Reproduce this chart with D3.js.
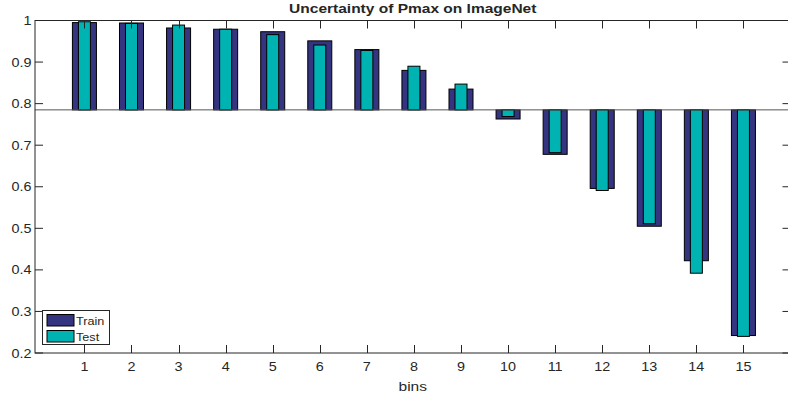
<!DOCTYPE html>
<html>
<head>
<meta charset="utf-8">
<script src="https://cdn.jsdelivr.net/npm/d3@7"></script>
<style>
  body { margin: 0; background: #fff; }
  svg { display: block; }
  text { font-family: "Liberation Sans", Arial, sans-serif; fill: #262626; }
</style>
</head>
<body>
<div id="chart"></div>
<script>
// bins and the two series
var bins = [1, 2, 3, 4, 5, 6, 7, 8, 9, 10, 11, 12, 13, 14, 15];
var train = [0.995, 0.994, 0.982, 0.979, 0.973, 0.951, 0.930, 0.880, 0.835, 0.763, 0.678, 0.596, 0.505, 0.422, 0.242];
var test = [0.997, 0.993, 0.989, 0.979, 0.966, 0.941, 0.928, 0.890, 0.847, 0.769, 0.682, 0.591, 0.511, 0.392, 0.240];
var yTicks = [0.2, 0.3, 0.4, 0.5, 0.6, 0.7, 0.8, 0.9, 1];
var baseValue = 0.785;
var seriesNames = ["Train", "Test"];
var colors = ["#343481", "#00b3b3"];

var width = 788, height = 398;
var box = {left: 35, right: 790.5, top: 20.5, bottom: 353};
var axisColor = "#262626";
var tickLen = 8;
var stretch = 1.15; // the picture is a bit wider than the font

var svg = d3.select("#chart").append("svg")
    .attr("width", width)
    .attr("height", height);

var x = d3.scaleLinear().domain([-0.05, 16]).range([box.left, box.right]);
var y = d3.scaleLinear().domain([0.2, 1]).range([box.bottom, box.top]);

// write text stretched like in the picture
function label(g, str, px, py, anchor, size, bold) {
    return g.append("text")
        .attr("transform", "translate(" + px + "," + py + ") scale(" + stretch + ",1)")
        .attr("text-anchor", anchor)
        .style("font-size", size + "px")
        .style("font-weight", bold ? "bold" : "normal")
        .text(str);
}

// bars: train (wide) then test (narrow) on top, both from the base value
var wide = 0.51, narrow = 0.255;
function drawBars(values, w, color) {
    svg.append("g").selectAll("rect")
        .data(values)
        .enter().append("rect")
        .attr("x", function (d, i) { return x(bins[i] - w / 2); })
        .attr("width", x(w) - x(0))
        .attr("y", function (d) { return y(Math.max(d, baseValue)); })
        .attr("height", function (d) { return Math.abs(y(d) - y(baseValue)); })
        .style("fill", color)
        .style("stroke", "#000")
        .style("stroke-width", 1);
}
drawBars(train, wide, colors[0]);
drawBars(test, narrow, colors[1]);

// base line
svg.append("line")
    .attr("x1", box.left).attr("x2", box.right)
    .attr("y1", y(baseValue)).attr("y2", y(baseValue))
    .style("stroke", "#555").style("stroke-width", 1);

// axes box with inward ticks on all sides
var axes = svg.append("g").style("stroke", axisColor).style("stroke-width", 1).style("fill", "none");
axes.append("rect")
    .attr("x", box.left).attr("y", box.top)
    .attr("width", box.right - box.left).attr("height", box.bottom - box.top);

bins.forEach(function (b) {
    var px = Math.round(x(b)) + 0.5;
    axes.append("line").attr("x1", px).attr("x2", px).attr("y1", box.bottom).attr("y2", box.bottom - tickLen);
    axes.append("line").attr("x1", px).attr("x2", px).attr("y1", box.top).attr("y2", box.top + tickLen);
    label(svg, b, x(b), 371, "middle", 12.5, false);
});

yTicks.forEach(function (t) {
    var py = y(t);
    axes.append("line").attr("x1", box.left).attr("x2", box.left + tickLen).attr("y1", py).attr("y2", py);
    axes.append("line").attr("x1", box.right).attr("x2", box.right - tickLen).attr("y1", py).attr("y2", py);
    label(svg, t, 31.5, py + 4.5, "end", 12.5, false);
});

// title and x label
label(svg, "Uncertainty of Pmax on ImageNet", (box.left + box.right) / 2, 13, "middle", 13.5, true);
label(svg, "bins", (box.left + box.right) / 2, 391, "middle", 13.5, false);

// legend
var leg = svg.append("g");
leg.append("rect")
    .attr("x", 42.5).attr("y", 310.5).attr("width", 67).attr("height", 34)
    .style("fill", "#fff").style("stroke", axisColor);
seriesNames.forEach(function (name, i) {
    leg.append("rect")
        .attr("x", 47).attr("y", 314.5 + i * 16).attr("width", 27).attr("height", 11.5)
        .style("fill", colors[i]).style("stroke", "#000");
    label(leg, name, 76, 324.5 + i * 16, "start", 11, false);
});
</script>
</body>
</html>
